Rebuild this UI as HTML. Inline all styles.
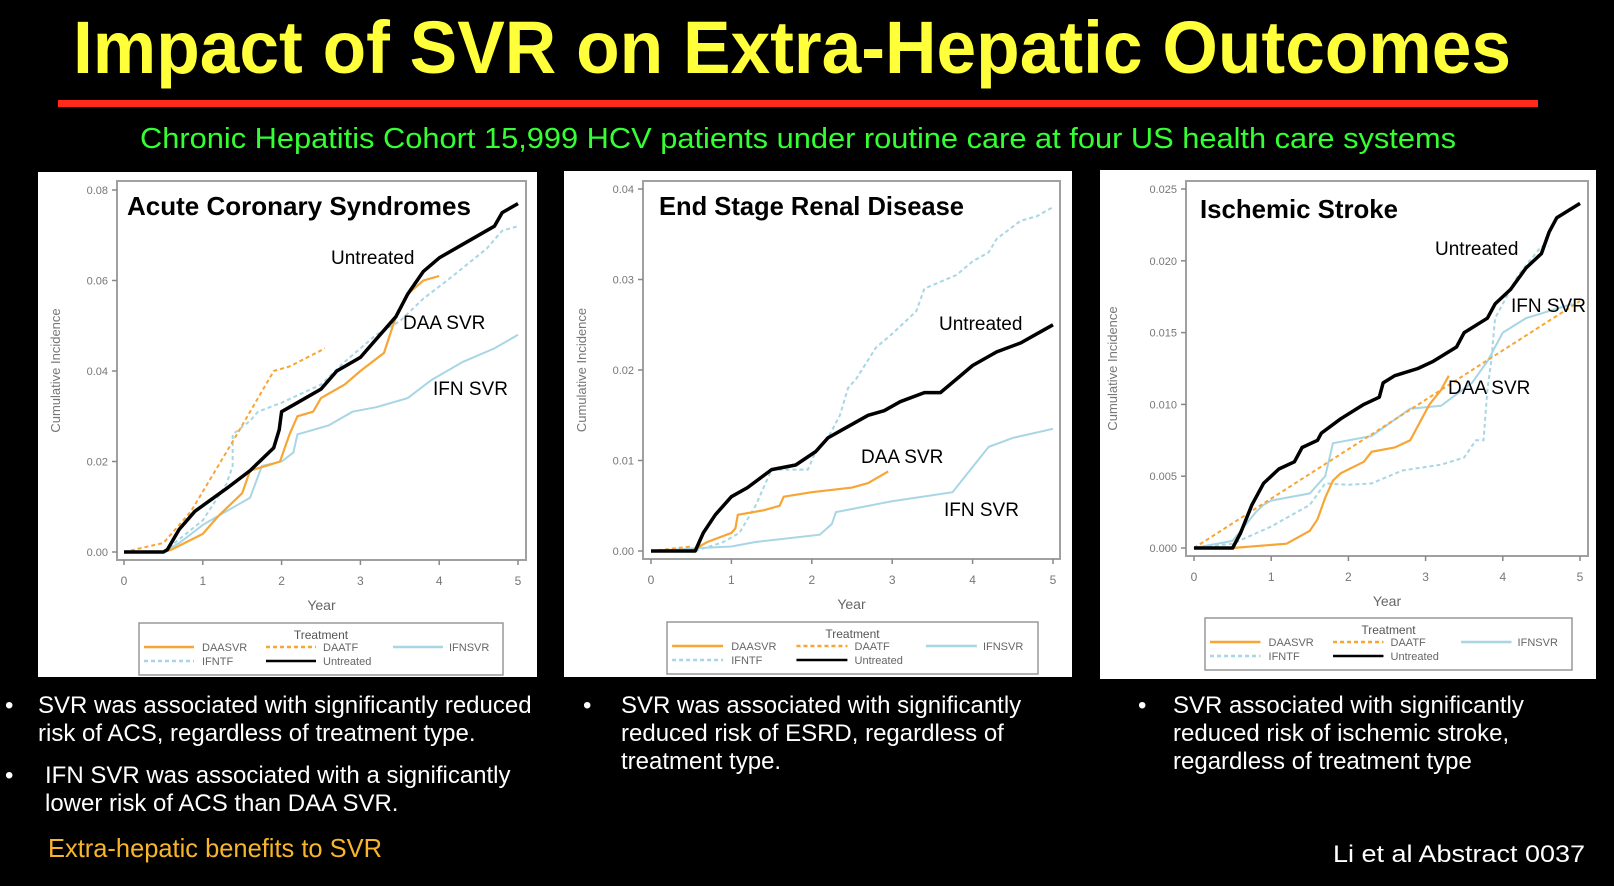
<!DOCTYPE html>
<html><head><meta charset="utf-8"><style>
html,body{margin:0;padding:0;background:#000;width:1614px;height:886px;overflow:hidden}
svg{display:block}
text{font-family:"Liberation Sans",sans-serif}
</style></head><body>
<svg id="s" width="1614" height="886" viewBox="0 0 1614 886" xmlns="http://www.w3.org/2000/svg">
<rect width="1614" height="886" fill="#000"/>
<text x="73" y="73" font-size="74" font-weight="bold" fill="#ffff3a" textLength="1438" lengthAdjust="spacingAndGlyphs">Impact of SVR on Extra-Hepatic Outcomes</text>
<rect x="58" y="100" width="1480" height="7" fill="#ff2a1a"/>
<text x="140" y="148" font-size="29" fill="#33ff33" textLength="1316" lengthAdjust="spacingAndGlyphs">Chronic Hepatitis Cohort 15,999 HCV patients under routine care at four US health care systems</text>
<rect x="38" y="172" width="499" height="505" fill="#fff"/>
<rect x="564" y="171" width="508" height="506" fill="#fff"/>
<rect x="1100" y="170" width="496" height="509" fill="#fff"/>
<g id="plots"></g>
<g fill="#fff" font-size="24">
<text x="5" y="713">•</text>
<text x="38" y="713">SVR was associated with significantly reduced</text>
<text x="38" y="741">risk of ACS, regardless of treatment type.</text>
<text x="5" y="783">•</text>
<text x="45" y="783">IFN SVR was associated with a significantly</text>
<text x="45" y="811">lower risk of ACS than DAA SVR.</text>
<text x="583" y="713">•</text>
<text x="621" y="713">SVR was associated with significantly</text>
<text x="621" y="741">reduced risk of ESRD, regardless of</text>
<text x="621" y="769">treatment type.</text>
<text x="1138" y="713">•</text>
<text x="1173" y="713">SVR associated with significantly</text>
<text x="1173" y="741">reduced risk of ischemic stroke,</text>
<text x="1173" y="769">regardless of treatment type</text>
<text x="1333" y="862" font-size="24" textLength="252" lengthAdjust="spacingAndGlyphs">Li et al Abstract 0037</text>
</g>
<text x="48" y="857" font-size="26" fill="#f7b52c" textLength="334" lengthAdjust="spacingAndGlyphs">Extra-hepatic benefits to SVR</text>
</svg>
<script>
const NS="http://www.w3.org/2000/svg";
const G=document.getElementById("plots");
function el(t,a,txt){const e=document.createElementNS(NS,t);for(const k in a)e.setAttribute(k,a[k]);if(txt!==undefined)e.textContent=txt;G.appendChild(e);return e;}
const OR="#f7a535",LB="#a8d6e4";
function panel(p){
  const X=t=>p.x0+t*p.dx, Y=v=>p.y0-v/p.ymax*(p.y0-p.ytop);
  el("rect",{x:p.fl,y:p.ft,width:p.fr-p.fl,height:p.fb-p.ft,fill:"none",stroke:"#a0a0a0","stroke-width":2});
  p.yt.forEach(v=>{const y=Y(v);el("line",{x1:p.fl-5,y1:y,x2:p.fl,y2:y,stroke:"#888","stroke-width":1.5});
    el("text",{x:p.fl-9,y:y+4,"font-size":11,fill:"#777","text-anchor":"end"},v.toFixed(p.dec));});
  for(let t=0;t<=5;t++){const x=X(t);el("line",{x1:x,y1:p.fb,x2:x,y2:p.fb+5,stroke:"#888","stroke-width":1.5});
    el("text",{x:x,y:p.fb+25,"font-size":12,fill:"#777","text-anchor":"middle"},String(t));}
  el("text",{x:(p.fl+p.fr)/2,y:p.fb+50,"font-size":14,fill:"#666","text-anchor":"middle"},"Year");
  const cy=(p.ft+p.fb)/2;
  el("text",{x:p.ylx,y:cy,"font-size":13,fill:"#777","text-anchor":"middle",transform:`rotate(-90 ${p.ylx} ${cy})`},"Cumulative Incidence");
  const pts=a=>a.map(d=>X(d[0]).toFixed(1)+","+Y(d[1]).toFixed(1)).join(" ");
  const S=p.series;
  if(S.itf)el("polyline",{points:pts(S.itf),fill:"none",stroke:LB,"stroke-width":2,"stroke-dasharray":"4 3"});
  if(S.isv)el("polyline",{points:pts(S.isv),fill:"none",stroke:LB,"stroke-width":2});
  if(S.dtf)el("polyline",{points:pts(S.dtf),fill:"none",stroke:OR,"stroke-width":2,"stroke-dasharray":"4 3"});
  if(S.dsv)el("polyline",{points:pts(S.dsv),fill:"none",stroke:OR,"stroke-width":2.2});
  el("polyline",{points:pts(S.unt),fill:"none",stroke:"#000","stroke-width":3.5,"stroke-linejoin":"round"});
  el("text",{x:p.title[0],y:p.title[1],"font-size":26,"font-weight":"bold",fill:"#000",textLength:p.title[2],lengthAdjust:"spacingAndGlyphs"},p.title[3]);
  p.labels.forEach(l=>el("text",{x:l[0],y:l[1],"font-size":19,fill:"#000"},l[2]));
  const L=p.leg,w=L[2],sx=w/364;
  el("rect",{x:L[0],y:L[1],width:w,height:52,fill:"#fff",stroke:"#999","stroke-width":1.5});
  el("text",{x:L[0]+w/2,y:L[1]+16,"font-size":12,fill:"#555","text-anchor":"middle"},"Treatment");
  const ent=[[5,63,28,OR,"","DAASVR"],[127,184,28,OR,"4 3","DAATF"],[254,310,28,LB,"","IFNSVR"],[5,63,42,LB,"4 3","IFNTF"],[127,184,42,"#000","","Untreated"]];
  ent.forEach(e=>{const y=L[1]+e[2];el("line",{x1:L[0]+e[0]*sx,y1:y-4,x2:L[0]+(e[0]+50)*sx,y2:y-4,stroke:e[3],"stroke-width":2.5,"stroke-dasharray":e[4]});
    el("text",{x:L[0]+e[1]*sx,y:y,"font-size":11,fill:"#666"},e[5]);});
}
panel({x0:124,dx:78.8,y0:552,ytop:190,ymax:0.08,fl:117,ft:181,fr:526,fb:560,ylx:60,dec:2,yt:[0,0.02,0.04,0.06,0.08],
 title:[127,215,344,"Acute Coronary Syndromes"],
 labels:[[331,264,"Untreated"],[403,329,"DAA SVR"],[433,395,"IFN SVR"]],leg:[139,623,364],
 series:{
 unt:[[0,0],[0.5,0],[0.55,0.0005],[0.7,0.005],[0.9,0.009],[1.3,0.014],[1.6,0.018],[1.9,0.023],[1.97,0.027],[2,0.031],[2.2,0.033],[2.5,0.036],[2.7,0.040],[3.0,0.043],[3.3,0.049],[3.45,0.052],[3.6,0.057],[3.8,0.062],[4.0,0.065],[4.3,0.068],[4.7,0.072],[4.8,0.075],[5,0.077]],
 dsv:[[0,0],[0.5,0],[0.6,0.0005],[1,0.004],[1.2,0.008],[1.5,0.013],[1.6,0.018],[1.8,0.019],[1.98,0.020],[2.1,0.026],[2.2,0.030],[2.4,0.031],[2.5,0.034],[2.8,0.037],[3.0,0.040],[3.3,0.044],[3.45,0.052],[3.6,0.057],[3.8,0.060],[4.0,0.061]],
 dtf:[[0,0],[0.5,0.002],[0.85,0.009],[1.4,0.025],[1.9,0.040],[2.1,0.041],[2.55,0.045]],
 isv:[[0,0],[0.5,0],[0.7,0.002],[1.0,0.006],[1.3,0.009],[1.6,0.012],[1.75,0.019],[2.0,0.020],[2.15,0.022],[2.2,0.026],[2.6,0.028],[2.9,0.031],[3.2,0.032],[3.6,0.034],[3.9,0.038],[4.3,0.042],[4.7,0.045],[5,0.048]],
 itf:[[0.5,0],[1,0.007],[1.3,0.015],[1.38,0.019],[1.38,0.026],[1.6,0.029],[1.7,0.031],[2.0,0.033],[2.5,0.037],[2.8,0.042],[3.2,0.048],[3.5,0.051],[3.8,0.056],[4.1,0.060],[4.6,0.067],[4.8,0.071],[5,0.072]]}});
panel({x0:651,dx:80.4,y0:551,ytop:189,ymax:0.04,fl:643,ft:181,fr:1060,fb:559,ylx:586,dec:2,yt:[0,0.01,0.02,0.03,0.04],
 title:[659,215,305,"End Stage Renal Disease"],
 labels:[[939,330,"Untreated"],[861,463,"DAA SVR"],[944,516,"IFN SVR"]],leg:[667,622,371],
 series:{
 unt:[[0,0],[0.55,0],[0.65,0.002],[0.8,0.004],[1.0,0.006],[1.2,0.007],[1.5,0.009],[1.8,0.0095],[2.05,0.011],[2.2,0.0125],[2.4,0.0135],[2.7,0.015],[2.9,0.0155],[3.1,0.0165],[3.4,0.0175],[3.6,0.0175],[3.8,0.019],[4.0,0.0205],[4.3,0.022],[4.6,0.023],[4.8,0.024],[5,0.025]],
 dsv:[[0,0],[0.5,0],[0.7,0.001],[1.0,0.002],[1.05,0.0025],[1.08,0.004],[1.4,0.0045],[1.6,0.005],[1.65,0.006],[2.0,0.0065],[2.5,0.007],[2.7,0.0075],[2.95,0.0088]],
 dtf:[[0,0],[0.5,0.0005]],
 isv:[[0,0],[0.55,0.0003],[1.0,0.0005],[1.3,0.001],[2.1,0.0018],[2.25,0.003],[2.3,0.0043],[3.0,0.0055],[3.75,0.0065],[4.2,0.0115],[4.5,0.0125],[5,0.0135]],
 itf:[[0.55,0],[0.9,0.001],[1.1,0.002],[1.3,0.005],[1.4,0.007],[1.5,0.009],[1.95,0.009],[2.05,0.011],[2.2,0.0125],[2.35,0.015],[2.45,0.018],[2.55,0.019],[2.8,0.0225],[3.0,0.024],[3.3,0.0265],[3.4,0.029],[3.8,0.0305],[4.0,0.032],[4.2,0.033],[4.3,0.0345],[4.6,0.0365],[4.8,0.037],[5,0.038]]}});
panel({x0:1194,dx:77.2,y0:548,ytop:189,ymax:0.025,fl:1186,ft:181,fr:1588,fb:556,ylx:1117,dec:3,yt:[0,0.005,0.01,0.015,0.02,0.025],
 title:[1200,218,198,"Ischemic Stroke"],
 labels:[[1435,255,"Untreated"],[1511,312,"IFN SVR"],[1448,394,"DAA SVR"]],leg:[1205,618,367],
 series:{
 unt:[[0,0],[0.5,0],[0.6,0.001],[0.75,0.003],[0.9,0.0045],[1.1,0.0055],[1.3,0.006],[1.4,0.007],[1.6,0.0075],[1.65,0.008],[1.9,0.009],[2.2,0.010],[2.4,0.0105],[2.45,0.0115],[2.6,0.012],[2.9,0.0125],[3.1,0.013],[3.4,0.014],[3.5,0.015],[3.8,0.016],[3.9,0.017],[4.1,0.018],[4.3,0.0195],[4.5,0.0205],[4.6,0.022],[4.7,0.023],[5,0.024]],
 dsv:[[0,0],[0.5,0],[1.2,0.0003],[1.5,0.0012],[1.6,0.002],[1.7,0.0035],[1.8,0.0047],[1.9,0.0052],[2.2,0.006],[2.3,0.0067],[2.6,0.007],[2.8,0.0075],[3.05,0.010],[3.2,0.011],[3.3,0.012]],
 dtf:[[0,0],[5,0.0172]],
 isv:[[0,0],[0.5,0.0005],[0.8,0.0025],[0.9,0.003],[1.0,0.0033],[1.5,0.0038],[1.7,0.005],[1.8,0.0073],[2.3,0.0078],[2.8,0.0097],[3.2,0.0099],[3.6,0.0115],[3.8,0.013],[4.0,0.015],[4.3,0.016],[4.6,0.0165],[4.9,0.017]],
 itf:[[0,0],[0.5,0.0003],[1.0,0.0015],[1.5,0.003],[1.7,0.0045],[2.0,0.0044],[2.3,0.0045],[2.7,0.0054],[3.2,0.0058],[3.5,0.0063],[3.65,0.0075],[3.75,0.0075],[3.8,0.011],[3.85,0.013],[3.9,0.016],[4.0,0.017],[4.2,0.019],[4.5,0.021],[4.6,0.021]]}});
</script>
</body></html>
